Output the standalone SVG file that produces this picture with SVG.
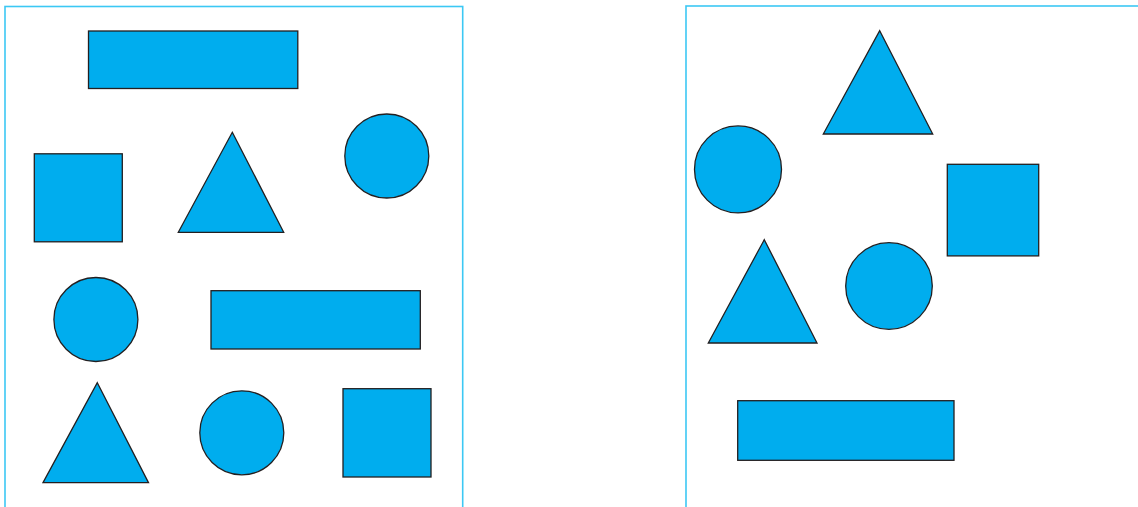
<svg xmlns="http://www.w3.org/2000/svg" width="1138" height="507" viewBox="0 0 1138 507">
<style>
.frame{fill:none;stroke:#3cc8f4;stroke-width:1.6}
.s{fill:#00adee;stroke:#231f20;stroke-width:1.3}
</style>
<rect width="1138" height="507" fill="#ffffff"/>
<g id="left-panel">
<rect class="frame" x="5" y="6.5" width="457.7" height="520"/>
<g id="l-rect1"><rect class="s" x="88.5" y="31" width="209.3" height="57.5"/></g>
<g id="l-square1"><rect class="s" x="34.3" y="153.8" width="88" height="88"/></g>
<g id="l-tri1"><polygon class="s" points="232.3,132.3 283.7,232.3 178.3,232.3"/></g>
<g id="l-circle1"><circle class="s" cx="386.8" cy="156" r="42"/></g>
<g id="l-circle2"><circle class="s" cx="95.9" cy="319.5" r="42"/></g>
<g id="l-rect2"><rect class="s" x="211" y="290.7" width="209.3" height="58.3"/></g>
<g id="l-tri2"><polygon class="s" points="97.3,382.7 148.5,482.6 43,482.6"/></g>
<g id="l-circle3"><circle class="s" cx="241.8" cy="432.8" r="42"/></g>
<g id="l-square2"><rect class="s" x="343" y="388.7" width="88" height="88.3"/></g>
</g>
<g id="right-panel">
<rect class="frame" x="686" y="6" width="480" height="520"/>
<g id="r-tri1"><polygon class="s" points="879.7,30.7 932.7,134 823.3,134"/></g>
<g id="r-circle1"><circle class="s" cx="738" cy="169.4" r="43.5"/></g>
<g id="r-square"><rect class="s" x="947.3" y="164.3" width="91.4" height="91.6"/></g>
<g id="r-tri2"><polygon class="s" points="764.3,239.7 817,343 708.3,343"/></g>
<g id="r-circle2"><circle class="s" cx="889" cy="286" r="43.3"/></g>
<g id="r-rect"><rect class="s" x="737.7" y="400.7" width="216.3" height="59.6"/></g>
</g>
</svg>
